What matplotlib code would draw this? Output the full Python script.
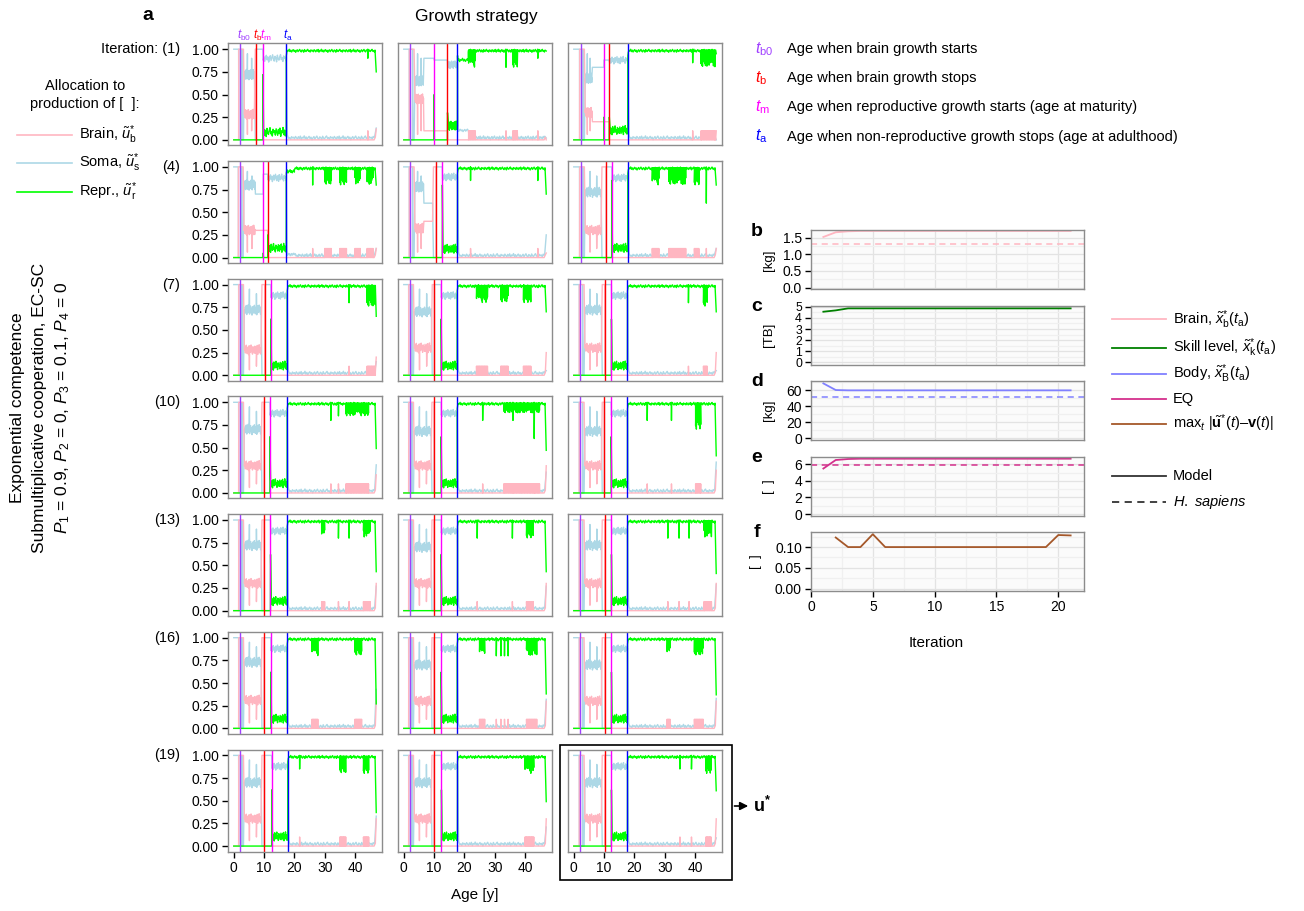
import numpy as np
import matplotlib
matplotlib.use("Agg")
import matplotlib.pyplot as plt
from matplotlib.patches import Rectangle, FancyArrowPatch
from matplotlib.lines import Line2D

W, H = 1304, 911

plt.rcParams['font.family'] = ['Liberation Sans', 'DejaVu Sans']
plt.rcParams['mathtext.fontset'] = 'custom'
plt.rcParams['mathtext.rm'] = 'Liberation Sans'
plt.rcParams['mathtext.it'] = 'Liberation Sans:italic'
plt.rcParams['mathtext.bf'] = 'Liberation Sans:bold'

# ---------------- panel a: growth strategy per iteration ----------------
ITERATIONS = list(range(1, 22))
T_B0 = [2.0, 2.2, 2.3, 1.9, 2.2, 2.3, 2.0, 2.0, 2.2, 2.0, 2.0, 2.2, 2.0, 2.0, 2.2, 2.0, 2.0, 2.2, 2.0, 2.0, 2.2]
T_B = [7.3, 14.4, 11.7, 11.2, 10.7, 10.7, 10.2, 10.1, 10.2, 10.0, 10.0, 10.1, 10.0, 10.0, 10.2, 10.0, 10.0, 10.2, 10.1, 10.0, 10.2]
T_M = [9.6, 10.0, 9.9, 9.7, 12.7, 12.5, 12.2, 12.3, 12.4, 11.9, 12.3, 12.3, 12.1, 12.3, 12.4, 12.2, 12.3, 12.4, 12.5, 12.4, 12.4]
T_A = [17.3, 17.7, 17.8, 17.3, 17.7, 17.8, 17.6, 17.6, 17.7, 17.6, 17.6, 17.7, 17.6, 17.7, 17.7, 17.6, 17.6, 17.7, 17.8, 17.7, 17.7]

# end of the noisy brain/soma phase, and its levels
C_END = [6.8, 6.5, 6.0, 7.0, 6.5, 9.0, 9.0, 9.1, 9.1, 9.0, 9.0, 9.1, 9.0, 9.0, 9.1, 9.0, 9.0, 9.1, 9.0, 9.0, 9.1]
SOMA_MID = [0.72, 0.65, 0.68, 0.8, 0.78, 0.72, 0.72, 0.7, 0.72, 0.7, 0.68, 0.68, 0.72, 0.7, 0.72, 0.73, 0.7, 0.7, 0.7, 0.7, 0.7]
BRAIN_MID = [0.28, 0.45, 0.3, 0.3, 0.32, 0.3, 0.28, 0.3, 0.3, 0.3, 0.3, 0.3, 0.3, 0.3, 0.3, 0.31, 0.3, 0.3, 0.3, 0.3, 0.3]
# flat phase: (end age, soma, brain, soma between t_m and t_b)
FLAT = [None, (10.0, 0.9, 0.1, 0.88), (9.9, 0.8, 0.2, 0.88), (9.7, 0.7, 0.3, 0.92), (9.5, 0.6, 0.4, None)] + [None] * 16
GREEN_SPIKE = [0.72, 0.5, 0.25, 0.05, 0.8, 0.85] + [0.62] * 15
GREEN_G = [0.08, 0.15, 0.1, 0.1, 0.09, 0.1] + [0.1] * 15
GREEN_PLATEAU = [None, (21.3, 0.88), None, (20.0, 0.95)] + [None] * 17
GREEN_DIPS = [
    [(44.2, 44.2, 0.9)],
    [(21.4, 23.7, 0.8), (33.7, 33.7, 0.8), (36.0, 37.6, 0.8), (44.2, 44.2, 0.9)],
    [(39.2, 39.2, 0.85), (42.0, 46.8, 0.8)],
    [(26.0, 26.0, 0.8), (30.0, 32.2, 0.8), (35.0, 37.2, 0.8), (40.0, 41.7, 0.8), (44.0, 46.0, 0.8)],
    [(22.0, 22.0, 0.85), (44.2, 44.2, 0.85)],
    [(25.9, 28.1, 0.8), (31.4, 37.0, 0.8), (39.8, 41.4, 0.8), (43.7, 43.7, 0.6)],
    [(38.0, 38.0, 0.8), (44.0, 46.7, 0.75)],
    [(24.0, 27.8, 0.8), (32.0, 34.5, 0.8), (39.5, 42.0, 0.8)],
    [(37.8, 37.8, 0.8), (42.8, 44.0, 0.75)],
    [(32.0, 32.0, 0.8), (34.5, 34.5, 0.85), (37.0, 44.5, 0.85)],
    [(26.0, 26.0, 0.8), (33.0, 45.0, 0.88), (36.0, 36.0, 0.8), (43.0, 43.0, 0.6)],
    [(24.2, 24.2, 0.8), (32.2, 32.2, 0.8), (40.2, 41.9, 0.7)],
    [(29.0, 30.0, 0.8), (34.5, 34.5, 0.8), (38.0, 38.0, 0.8), (42.8, 45.0, 0.8)],
    [(24.2, 24.2, 0.8), (35.8, 35.8, 0.8), (40.5, 42.8, 0.8)],
    [(31.0, 31.0, 0.8), (34.7, 34.7, 0.8), (38.0, 38.0, 0.8), (43.0, 45.5, 0.8)],
    [(25.8, 27.8, 0.8), (40.0, 42.2, 0.8)],
    [(25.0, 26.7, 0.8), (30.5, 30.5, 0.8), (32.0, 32.0, 0.8), (33.2, 33.2, 0.8), (34.4, 34.4, 0.8), (40.5, 43.9, 0.8)],
    [(30.8, 32.0, 0.8), (39.8, 42.7, 0.8)],
    [(21.7, 21.7, 0.85), (35.0, 37.0, 0.8), (42.8, 44.7, 0.8)],
    [(40.0, 42.9, 0.8)],
    [(35.0, 35.0, 0.85), (38.8, 38.8, 0.85), (43.6, 45.5, 0.8)],
]
GREEN_END = [0.75, 0.98, 0.95, 0.8, 0.7, 0.8, 0.65, 0.7, 0.7, 0.49, 0.47, 0.41, 0.43, 0.43, 0.41, 0.27, 0.38, 0.37, 0.37, 0.49, 0.61]
BRAIN_END = [0.12, 0.0, 0.1, 0.1, 0.05, 0.1, 0.2, 0.25, 0.25, 0.2, 0.3, 0.25, 0.3, 0.3, 0.3, 0.3, 0.3, 0.3, 0.3, 0.3, 0.3]
# (fraction of the noisy phase, brain value, soma value) of the short spikes
SPIKES = [(0.3, 0.06, 0.95), (0.72, 0.1, 0.9)]
# hand-read wiggle pattern used for the noisy stretches
NOISE = [0.52, 0.18, 0.77, 0.35, 0.91, 0.08, 0.63, 0.44, 0.97, 0.25,
         0.70, 0.12, 0.58, 0.86, 0.31, 0.67, 0.03, 0.49, 0.81, 0.22,
         0.60, 0.93, 0.38, 0.15, 0.74, 0.55, 0.06, 0.88, 0.41, 0.27,
         0.69, 0.95, 0.33, 0.57, 0.11, 0.79, 0.46, 0.64, 0.20, 0.84]

# ---------------- panels b-f ----------------
ITER_X = list(range(1, 22))
BRAIN_KG = [1.52, 1.66, 1.69] + [1.70] * 18
SKILL_TB = [4.55, 4.67, 4.85] + [4.85] * 18
BODY_KG = [68.3, 60.0] + [59.6] * 19
EQ_VAL = [5.5, 6.53, 6.65] + [6.69] * 18
MAX_DIFF = [np.nan, 0.123, 0.10, 0.10, 0.131] + [0.10] * 14 + [0.129, 0.128]
SAPIENS_BRAIN = 1.31
SAPIENS_BODY = 51.7
SAPIENS_EQ = 5.88

SOMA_C, BRAIN_C, REPR_C = '#ADD8E6', '#FFB6C1', '#00FF00'
VLINE_C = ['#A040FF', '#FF0000', '#FF00FF', '#0000FF']
T_LABELS = [r'$t_{\mathrm{b0}}$', r'$t_{\mathrm{b}}$', r'$t_{\mathrm{m}}$', r'$t_{\mathrm{a}}$']


def jitter(a0, a1, lo, hi, n, shift):
    xs = np.linspace(a0, a1, n)
    return [(x, lo + (hi - lo) * NOISE[(i + shift) % len(NOISE)]) for i, x in enumerate(xs)]


def build(k):
    tb0, tb, tm, ta = T_B0[k], T_B[k], T_M[k], T_A[k]
    sm, bm, c_end, gl = SOMA_MID[k], BRAIN_MID[k], C_END[k], GREEN_G[k]
    S = [(0.0, 1.0), (tb0 - 0.4, 1.0), (tb0 - 0.35, 0.0), (tb0 + 0.7, 0.0),
         (tb0 + 0.72, 1.0), (tb0 + 0.76, 0.0), (tb0 + 1.2, 0.0)]
    B = [(0.0, 0.0), (tb0 - 0.4, 0.0), (tb0 - 0.35, 1.0), (tb0 + 1.2, 1.0)]
    G = [(0.0, 0.0)]
    c0 = tb0 + 1.5
    S += jitter(c0, c_end, sm - 0.06, sm + 0.06, 36, 0)
    B += jitter(c0, c_end, bm - 0.06, bm + 0.06, 36, 17)
    for f, low, high in SPIKES:
        x = c0 + f * (c_end - c0) + 0.02
        S.append((x, high))
        B.append((x, low))
    e0 = c_end
    fl = FLAT[k]
    fs2, fb = None, 0.0
    if fl:
        fe, fs, fb, fs2 = fl
        S += [(c_end + 0.15, fs), (fe, fs)]
        B += [(c_end + 0.15, fb), (fe, fb)]
        e0 = fe
    if tb < tm:
        B += [(e0 + 0.3, 1.0), (tb, 1.0), (tb + 0.03, 0.0)]
        S += [(e0 + 0.3, 0.0), (tb, 0.0), (tb + 0.03, 1.0), (tm, 1.0)]
        G += [(tm, 0.0), (tm + 0.03, GREEN_SPIKE[k]), (tm + 0.25, gl + 0.06)]
        g0 = tm
    else:
        S += [(tm + 0.03, fs2), (tb, fs2)]
        B += [(tb, fb), (tb + 0.03, 0.0)]
        G += [(tm, 0.0), (tm + 0.03, GREEN_SPIKE[k]), (tm + 0.1, 0.0), (tb, 0.0),
              (tb + 0.03, gl + 0.15), (tb + 0.25, gl + 0.05)]
        g0 = tb
    sg = 0.985 - gl
    S += jitter(g0 + 0.1, ta - 0.05, sg - 0.05, sg + 0.04, 30, 9)
    G += jitter(g0 + 0.35, ta - 0.05, gl - 0.05, gl + 0.06, 30, 23)
    B += [(ta, 0.0), (ta + 0.05, 0.0)]
    G += [(ta, gl), (ta + 0.04, 0.93)]
    pl = GREEN_PLATEAU[k]
    h0 = ta + 0.2
    if pl:
        pe, pv = pl
        G += jitter(ta + 0.1, pe, pv - 0.02, pv + 0.02, 12, 3)
        S += [(ta, sg), (ta + 0.3, 1.0 - pv)]
        S += jitter(ta + 0.4, pe, 0.97 - pv, 1.0 - pv, 12, 11)
        h0 = pe
    else:
        S += [(ta, sg), (ta + 0.4, 0.06)]
    G += jitter(h0, 46.4, 0.965, 1.0, 110, 5)
    S += jitter(h0 + 0.3, 46.3, 0.0, 0.045, 90, 31)
    for j, (a0, a1, d) in enumerate(GREEN_DIPS[k]):
        pink = min(0.1, 1.0 - d)
        if a1 - a0 < 0.05:
            G += [(a0, 1.0), (a0 + 0.03, d), (a0 + 0.12, 0.99)]
            B += [(a0, 0.0), (a0 + 0.03, pink), (a0 + 0.12, 0.0)]
        else:
            xs = np.arange(a0, a1, 0.12)
            lows = [d + (1.0 - d) * 0.45 * NOISE[(i + 7 * j) % len(NOISE)] for i in range(len(xs))]
            G += [(a0 - 0.01, 0.99)]
            G += [(x, lows[i] if i % 2 == 0 else 0.99) for i, x in enumerate(xs)]
            G += [(a1, 0.99)]
            B += [(a0 - 0.01, 0.0)]
            B += [(x, pink if i % 2 == 0 else 0.0) for i, x in enumerate(xs)]
            B += [(a1, 0.0)]
    ge, be = GREEN_END[k], BRAIN_END[k]
    G += [(46.6, 0.99), (47.0, ge)]
    B += [(46.3, 0.0), (46.7, 0.03), (47.0, be)]
    S += [(46.5, 0.04), (47.0, max(0.0, 1.0 - ge - be))]
    out = []
    for pts in (S, B, G):
        pts = sorted(pts, key=lambda p: p[0])
        out.append(([p[0] for p in pts], [p[1] for p in pts]))
    return out


fig = plt.figure(figsize=(W / 100, H / 100), dpi=100)


def px_axes(left, top, width, height):
    return fig.add_axes([left / W, 1 - (top + height) / H, width / W, height / H])


def fx(x):
    return x / W


def fy(y):
    return 1 - y / H


COL_LEFT = [228, 398, 568]
PANEL_W, PANEL_H = 154, 102
ROW_TOP0, ROW_STEP = 43.3, 117.7
YLIM_A = (-0.06, 1.065)

for k, it in enumerate(ITERATIONS):
    r, c = divmod(k, 3)
    top = ROW_TOP0 + r * ROW_STEP
    ax = px_axes(COL_LEFT[c], top, PANEL_W, PANEL_H)
    (sx, sy), (bx, by), (gx, gy) = build(k)
    ax.plot(sx, sy, color=SOMA_C, lw=1.0)
    ax.plot(bx, by, color=BRAIN_C, lw=1.0)
    ax.plot(gx, gy, color=REPR_C, lw=1.0)
    ages = [T_B0[k], T_B[k], T_M[k], T_A[k]]
    for t, col in zip(ages, VLINE_C):
        ax.axvline(t, color=col, lw=1.0)
    ax.set_xlim(-1.9, 48.9)
    ax.set_ylim(*YLIM_A)
    for sp in ax.spines.values():
        sp.set_color('#8c8c8c')
        sp.set_linewidth(1.0)
    ax.tick_params(length=4.5, width=1, labelsize=10, pad=2)
    if c == 0:
        ax.set_yticks([0, 0.25, 0.5, 0.75, 1.0])
        ax.set_yticklabels(['0.00', '0.25', '0.50', '0.75', '1.00'])
        lab = 'Iteration: (%d)' % it if r == 0 else '(%d)' % it
        y1 = top + (YLIM_A[1] - 1.0) / (YLIM_A[1] - YLIM_A[0]) * PANEL_H
        fig.text(fx(180), fy(y1), lab, ha='right', va='center', fontsize=10.5)
    else:
        ax.set_yticks([])
    if r == 6:
        ax.set_xticks([0, 10, 20, 30, 40])
    else:
        ax.set_xticks([])
    if k == 0:
        for t, col, lab in zip(ages, VLINE_C, T_LABELS):
            ax.text(t - 1.0, 1.005, lab, color=col, fontsize=8.5, ha='left', va='bottom',
                    transform=ax.get_xaxis_transform())

# headings and annotations of panel a
fig.text(fx(148), fy(15), 'a', fontsize=14, fontweight='bold', ha='center', va='center')
fig.text(fx(476), fy(17), 'Growth strategy', fontsize=12.5, ha='center', va='center')
fig.text(fx(475), fy(895), 'Age [y]', fontsize=11, ha='center', va='center')
fig.text(fx(85), fy(86), 'Allocation to', fontsize=10.5, ha='center', va='center')
fig.text(fx(85), fy(104), 'production of [  ]:', fontsize=10.5, ha='center', va='center')
left_leg = [(BRAIN_C, r'Brain, $\tilde{u}_{\mathrm{b}}^{*}$', 135),
            (SOMA_C, r'Soma, $\tilde{u}_{\mathrm{s}}^{*}$', 163),
            (REPR_C, r'Repr., $\tilde{u}_{\mathrm{r}}^{*}$', 192)]
for col, lab, y in left_leg:
    fig.add_artist(Line2D([fx(17), fx(72)], [fy(y), fy(y)], color=col, lw=1.2,
                          transform=fig.transFigure))
    fig.text(fx(79), fy(y), lab, fontsize=10.5, ha='left', va='center')

side = ['Exponential competence', 'Submultiplicative cooperation, EC-SC',
        r'$P_{1}$ = 0.9, $P_{2}$ = 0, $P_{3}$ = 0.1, $P_{4}$ = 0']
for xpos, lab in zip([18, 40, 63], side):
    fig.text(fx(xpos), fy(408), lab, rotation=90, fontsize=12.5, ha='center', va='center')

t_desc = ['Age when brain growth starts', 'Age when brain growth stops',
          'Age when reproductive growth starts (age at maturity)',
          'Age when non-reproductive growth stops (age at adulthood)']
for i, (lab, col, desc) in enumerate(zip(T_LABELS, VLINE_C, t_desc)):
    y = 49.3 + i * 29.1
    fig.text(fx(755), fy(y), lab, color=col, fontsize=11.5, ha='left', va='center')
    fig.text(fx(787), fy(y), desc, fontsize=10.5, ha='left', va='center')

fig.add_artist(Rectangle((fx(560), fy(880)), (731.7 - 560) / W, (880 - 745) / H,
                         transform=fig.transFigure, fill=False, lw=1.2, ec='black'))
fig.add_artist(FancyArrowPatch((fx(731.7), fy(806)), (fx(751), fy(806)),
                               transform=fig.transFigure, arrowstyle='-|>',
                               mutation_scale=12, lw=1.2, color='black'))
fig.text(fx(753), fy(806), r'$\mathbf{u^{*}}$', fontsize=13, ha='left', va='center')

# ---------------- panels b-f ----------------
RP_LEFT, RP_W, RP_H = 811, 272.5, 59
specs = [
    ('b', 230.3, BRAIN_KG, '#FFB6C1', SAPIENS_BRAIN, (-0.05, 1.72), [0, 0.5, 1.0, 1.5],
     ['0.0', '0.5', '1.0', '1.5'], [0.25, 0.75, 1.25], '[kg]', 10),
    ('c', 305.7, SKILL_TB, '#008000', None, (-0.2, 5.09), [0, 1, 2, 3, 4, 5],
     ['0', '1', '2', '3', '4', '5'], [0.5, 1.5, 2.5, 3.5, 4.5], '[TB]', 8.8),
    ('d', 381.0, BODY_KG, '#8080FF', SAPIENS_BODY, (-2.5, 71.3), [0, 20, 40, 60],
     ['0', '20', '40', '60'], [10, 30, 50, 70], '[kg]', 10),
    ('e', 456.7, EQ_VAL, '#D4308C', SAPIENS_EQ, (-0.2, 6.93), [0, 2, 4, 6],
     ['0', '2', '4', '6'], [1, 3, 5], '[  ]', 10),
    ('f', 531.7, MAX_DIFF, '#A5582A', None, (-0.005, 0.137), [0, 0.05, 0.10],
     ['0.00', '0.05', '0.10'], [0.025, 0.075, 0.125], '[  ]', 10),
]
for letter, top, vals, col, ref, ylim, yt, ytl, ymin, ylab, fsz in specs:
    ax = px_axes(RP_LEFT, top, RP_W, RP_H)
    ax.set_facecolor('#FBFBFB')
    ax.set_xlim(0, 22.04)
    ax.set_ylim(*ylim)
    ax.set_xticks([0, 5, 10, 15, 20])
    ax.set_xticks([2.5, 7.5, 12.5, 17.5], minor=True)
    ax.set_yticks(yt)
    ax.set_yticklabels(ytl)
    ax.set_yticks(ymin, minor=True)
    ax.grid(which='major', color='#E3E3E3', lw=0.9)
    ax.grid(which='minor', color='#F0F0F0', lw=0.9)
    ax.set_axisbelow(True)
    ax.tick_params(which='minor', length=0)
    ax.tick_params(which='major', length=4.5, width=1, labelsize=10, pad=2)
    ax.tick_params(axis='y', labelsize=fsz)
    for sp in ax.spines.values():
        sp.set_color('#8c8c8c')
        sp.set_linewidth(1.0)
    if ref is not None:
        ax.axhline(ref, color=col, lw=1.1, ls=(0, (4, 3)))
    ax.plot(ITER_X, vals, color=col, lw=1.3)
    if letter == 'f':
        ax.set_xticklabels(['0', '5', '10', '15', '20'])
    else:
        ax.tick_params(axis='x', which='major', length=0, labelbottom=False)
    fig.text(fx(757), fy(top + 1), letter, fontsize=14, fontweight='bold', ha='center', va='center')
    xl = 756 if letter == 'f' else 769
    fig.text(fx(xl), fy(top + RP_H / 2), ylab, rotation=90, fontsize=9.5, ha='center', va='center')

fig.text(fx(936), fy(643), 'Iteration', fontsize=11, ha='center', va='center')

right_leg = [('#FFB6C1', '-', r'Brain, $\tilde{x}_{\mathrm{b}}^{*}(t_{\mathrm{a}})$', 319.3),
             ('#008000', '-', r'Skill level, $\tilde{x}_{\mathrm{k}}^{*}(t_{\mathrm{a}})$', 347.7),
             ('#8080FF', '-', r'Body, $\tilde{x}_{\mathrm{B}}^{*}(t_{\mathrm{a}})$', 373.7),
             ('#D4308C', '-', 'EQ', 399.3),
             ('#A5582A', '-', r'max$_{t}$ |$\tilde{\mathbf{u}}^{*}(t)$–$\mathbf{v}(t)$|', 423.7),
             ('#333333', '-', 'Model', 476.3),
             ('#333333', (0, (4, 3)), r'$H.\ sapiens$', 501.7)]
for col, ls, lab, y in right_leg:
    fig.add_artist(Line2D([fx(1111.5), fx(1166)], [fy(y), fy(y)], color=col, lw=1.3, ls=ls,
                          transform=fig.transFigure))
    fig.text(fx(1172.6), fy(y), lab, fontsize=10.5, ha='left', va='center')

fig.savefig('out.png', dpi=100)
